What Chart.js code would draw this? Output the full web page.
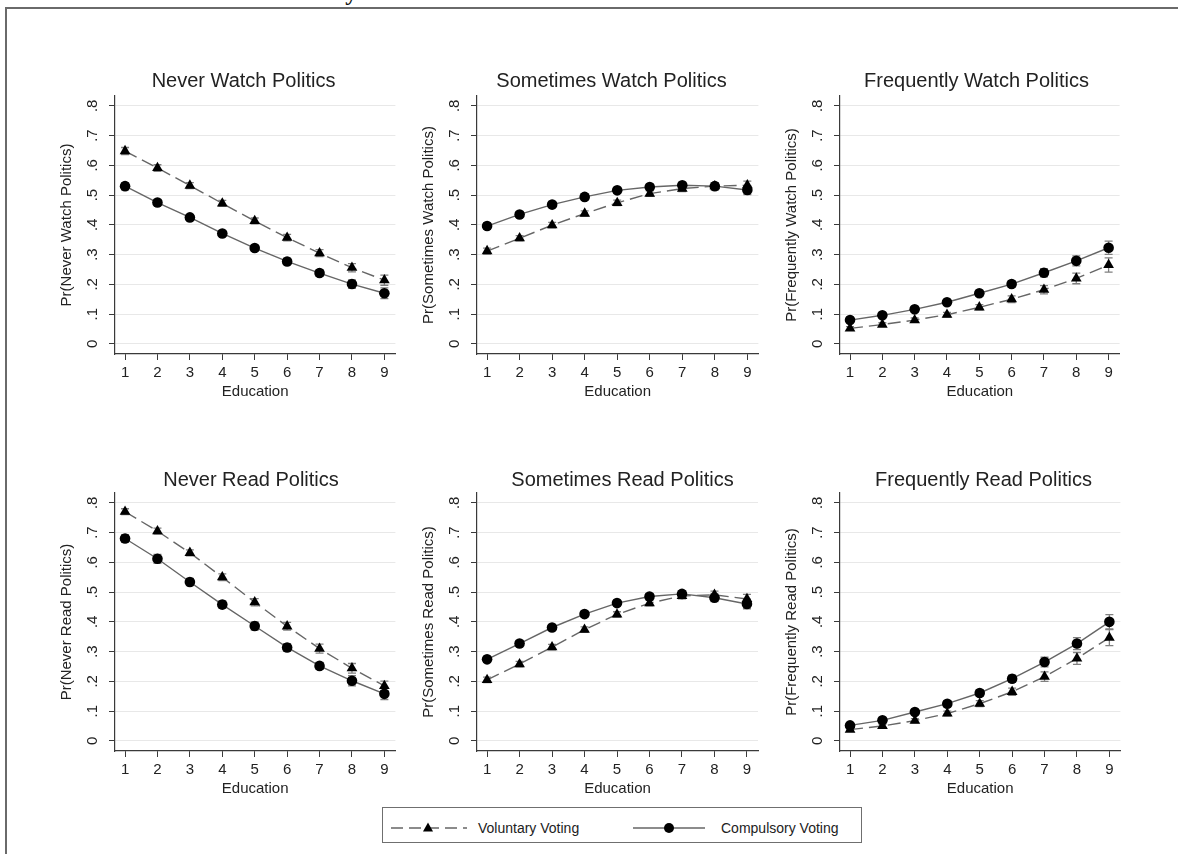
<!DOCTYPE html>
<html>
<head>
<meta charset="utf-8">
<script src="https://cdn.jsdelivr.net/npm/chart.js@4.4.1/dist/chart.umd.min.js"></script>
<style>
  html, body { margin: 0; padding: 0; background: #fff; overflow: hidden; }
  body { width: 1178px; height: 854px; position: relative; font-family: "Liberation Sans", Arial, sans-serif; }
  #frame { position: absolute; left: 5px; top: 7px; width: 1200px; height: 900px;
           border-left: 2px solid #6a6a6a; border-top: 2px solid #6a6a6a; }
  #heading { position: absolute; left: 332px; top: -20px; font: bold 24px "Liberation Serif", serif; line-height: 24px; color: #111; }
  canvas.panel { position: absolute; }
  #legend { position: absolute; left: 382px; top: 807px; width: 480px; height: 36px;
            border: 1px solid #6f6f6f; box-sizing: border-box; }
  #legend svg { position: absolute; top: 13px; }
  #legend span { position: absolute; top: 12px; font-size: 14px; line-height: 16px; color: #222; }
</style>
</head>
<body>
<div id="frame"></div>
<div id="heading">Sy</div>
<div id="legend">
  <svg style="left:7px" width="78" height="14">
    <line x1="1" y1="7" x2="77" y2="7" stroke="#666" stroke-width="1.3" stroke-dasharray="12 6"></line>
    <polygon points="38,1.5 43,10.5 33,10.5" fill="#000"></polygon>
  </svg>
  <span style="left:95px" id="legVol"></span>
  <svg style="left:249px" width="74" height="14">
    <line x1="1" y1="7" x2="73" y2="7" stroke="#666" stroke-width="1.3"></line>
    <circle cx="37" cy="7" r="5" fill="#000"></circle>
  </svg>
  <span style="left:338px" id="legComp"></span>
</div>

<script>
// ---- data ----
const education = [1, 2, 3, 4, 5, 6, 7, 8, 9];
const yTickValues = [0, 0.1, 0.2, 0.3, 0.4, 0.5, 0.6, 0.7, 0.8];
const yTickLabels = ['0', '.1', '.2', '.3', '.4', '.5', '.6', '.7', '.8'];
const seriesNames = ['Voluntary Voting', 'Compulsory Voting'];
const xAxisTitle = 'Education';

const panelTitles = [
  'Never Watch Politics', 'Sometimes Watch Politics', 'Frequently Watch Politics',
  'Never Read Politics', 'Sometimes Read Politics', 'Frequently Read Politics'
];
const yAxisTitles = [
  'Pr(Never Watch Politics)', 'Pr(Sometimes Watch Politics)', 'Pr(Frequently Watch Politics)',
  'Pr(Never Read Politics)', 'Pr(Sometimes Read Politics)', 'Pr(Frequently Read Politics)'
];

// predicted probabilities
const neverWatchVol       = [0.648, 0.591, 0.532, 0.472, 0.413, 0.357, 0.305, 0.256, 0.214];
const neverWatchComp      = [0.530, 0.475, 0.425, 0.371, 0.322, 0.277, 0.238, 0.201, 0.170];
const sometimesWatchVol   = [0.312, 0.355, 0.399, 0.438, 0.474, 0.505, 0.522, 0.530, 0.533];
const sometimesWatchComp  = [0.396, 0.435, 0.468, 0.494, 0.516, 0.527, 0.533, 0.530, 0.517];
const frequentlyWatchVol  = [0.052, 0.065, 0.080, 0.098, 0.123, 0.150, 0.182, 0.220, 0.265];
const frequentlyWatchComp = [0.080, 0.096, 0.116, 0.140, 0.170, 0.201, 0.239, 0.279, 0.323];
const neverReadVol        = [0.770, 0.705, 0.632, 0.550, 0.466, 0.385, 0.310, 0.244, 0.185];
const neverReadComp       = [0.680, 0.612, 0.534, 0.458, 0.386, 0.314, 0.252, 0.202, 0.158];
const sometimesReadVol    = [0.205, 0.258, 0.315, 0.374, 0.425, 0.463, 0.487, 0.491, 0.477];
const sometimesReadComp   = [0.274, 0.327, 0.381, 0.426, 0.463, 0.485, 0.494, 0.481, 0.460];
const frequentlyReadVol   = [0.038, 0.050, 0.068, 0.092, 0.125, 0.165, 0.216, 0.277, 0.347];
const frequentlyReadComp  = [0.052, 0.069, 0.097, 0.125, 0.161, 0.209, 0.265, 0.327, 0.400];

// half-widths of the confidence intervals
const neverWatchVolCI       = [0.012, 0.011, 0.010, 0.010, 0.010, 0.011, 0.012, 0.014, 0.017];
const neverWatchCompCI      = [0.012, 0.010, 0.009, 0.009, 0.009, 0.010, 0.011, 0.014, 0.018];
const sometimesWatchVolCI   = [0.010, 0.009, 0.009, 0.009, 0.009, 0.009, 0.010, 0.012, 0.014];
const sometimesWatchCompCI  = [0.010, 0.009, 0.009, 0.009, 0.009, 0.009, 0.010, 0.012, 0.015];
const frequentlyWatchVolCI  = [0.006, 0.006, 0.007, 0.008, 0.009, 0.011, 0.014, 0.018, 0.024];
const frequentlyWatchCompCI = [0.008, 0.008, 0.008, 0.009, 0.010, 0.011, 0.014, 0.017, 0.022];
const neverReadVolCI        = [0.010, 0.010, 0.010, 0.011, 0.012, 0.013, 0.015, 0.016, 0.016];
const neverReadCompCI       = [0.013, 0.015, 0.012, 0.012, 0.014, 0.013, 0.012, 0.017, 0.019];
const sometimesReadVolCI    = [0.009, 0.009, 0.009, 0.009, 0.009, 0.009, 0.010, 0.012, 0.015];
const sometimesReadCompCI   = [0.010, 0.010, 0.009, 0.009, 0.009, 0.009, 0.010, 0.013, 0.016];
const frequentlyReadVolCI   = [0.005, 0.006, 0.007, 0.008, 0.010, 0.012, 0.016, 0.020, 0.027];
const frequentlyReadCompCI  = [0.006, 0.007, 0.008, 0.010, 0.011, 0.012, 0.016, 0.020, 0.024];

const panelSeries = [
  [neverWatchVol, neverWatchVolCI, neverWatchComp, neverWatchCompCI],
  [sometimesWatchVol, sometimesWatchVolCI, sometimesWatchComp, sometimesWatchCompCI],
  [frequentlyWatchVol, frequentlyWatchVolCI, frequentlyWatchComp, frequentlyWatchCompCI],
  [neverReadVol, neverReadVolCI, neverReadComp, neverReadCompCI],
  [sometimesReadVol, sometimesReadVolCI, sometimesReadComp, sometimesReadCompCI],
  [frequentlyReadVol, frequentlyReadVolCI, frequentlyReadComp, frequentlyReadCompCI]
];

// ---- layout ----
const Y_AXIS_W = 62, TITLE_BLOCK = 46, PLOT_H = 258, X_AXIS_H = 50;
const TITLE_SIZE = 20, LABEL_SIZE = 15;
const panelBoxes = [
  { plotLeft: 115, plotTop: 96,    plotW: 280, titleCx: 243.3, titleCy: 81.7 },
  { plotLeft: 477, plotTop: 96,    plotW: 281, titleCx: 611.3, titleCy: 81.7 },
  { plotLeft: 840, plotTop: 96,    plotW: 280, titleCx: 976.7, titleCy: 81.7 },
  { plotLeft: 115, plotTop: 492.5, plotW: 280, titleCx: 250.8, titleCy: 480 },
  { plotLeft: 477, plotTop: 492.5, plotW: 281, titleCx: 622.5, titleCy: 480 },
  { plotLeft: 840, plotTop: 492.5, plotW: 280, titleCx: 983.3, titleCy: 480 }
];

const INK = '#222222';
const AXIS = '#3a3a3a';
const LINE = '#666666';

document.getElementById('legVol').textContent = seriesNames[0];
document.getElementById('legComp').textContent = seriesNames[1];

// vertical confidence-interval whiskers with caps, drawn under the markers
const errorBars = {
  id: 'errorBars',
  beforeDatasetsDraw(chart) {
    const { ctx } = chart;
    const xs = chart.scales.x, ys = chart.scales.y;
    chart.data.datasets.forEach(ds => {
      if (!ds.ci) return;
      ctx.save();
      ctx.strokeStyle = '#808080';
      ctx.lineWidth = 1.3;
      ds.data.forEach((p, i) => {
        const e = ds.ci[i];
        const px = xs.getPixelForValue(p.x);
        const top = ys.getPixelForValue(p.y + e);
        const bot = ys.getPixelForValue(p.y - e);
        ctx.beginPath();
        ctx.moveTo(px, top); ctx.lineTo(px, bot);
        ctx.moveTo(px - 4, top); ctx.lineTo(px + 4, top);
        ctx.moveTo(px - 4, bot); ctx.lineTo(px + 4, bot);
        ctx.stroke();
      });
      ctx.restore();
    });
  }
};

Chart.defaults.font.family = '"Liberation Sans", Arial, sans-serif';
Chart.defaults.color = INK;

panelBoxes.forEach((box, k) => {
  const [vol, volCI, comp, compCI] = panelSeries[k];
  const canvasLeft = box.plotLeft - Y_AXIS_W;
  const canvasTop = box.plotTop - TITLE_BLOCK;
  const rightW = 2 * (box.titleCx - canvasLeft) - Y_AXIS_W - box.plotW;
  const W = Math.round(Y_AXIS_W + box.plotW + rightW);
  const H = TITLE_BLOCK + PLOT_H + X_AXIS_H;
  const titleLH = TITLE_SIZE * 1.2;
  const titlePadTop = box.titleCy - canvasTop - titleLH / 2;
  const titlePadBottom = TITLE_BLOCK - titlePadTop - titleLH;

  const cv = document.createElement('canvas');
  cv.className = 'panel';
  cv.width = W; cv.height = H;
  cv.style.left = canvasLeft + 'px';
  cv.style.top = canvasTop + 'px';
  cv.style.width = W + 'px';
  cv.style.height = H + 'px';
  document.body.appendChild(cv);

  const toPoints = arr => education.map((x, i) => ({ x, y: arr[i] }));

  new Chart(cv, {
    type: 'line',
    data: {
      datasets: [
        {
          label: seriesNames[1], data: toPoints(comp), ci: compCI,
          borderColor: LINE, borderWidth: 1.4, tension: 0,
          pointStyle: 'circle', pointRadius: 5.3, pointBackgroundColor: '#000',
          pointBorderColor: '#000', pointBorderWidth: 0,
          xAxisID: 'x', yAxisID: 'y'
        },
        {
          label: seriesNames[0], data: toPoints(vol), ci: volCI,
          borderColor: LINE, borderWidth: 1.4, borderDash: [13, 6], tension: 0,
          pointStyle: 'triangle', pointRadius: 6.2, pointBackgroundColor: '#000',
          pointBorderColor: '#000', pointBorderWidth: 0,
          xAxisID: 'x', yAxisID: 'y'
        }
      ]
    },
    options: {
      responsive: false,
      animation: false,
      events: [],
      layout: { padding: 0 },
      plugins: {
        legend: { display: false },
        tooltip: { enabled: false },
        title: {
          display: true, text: panelTitles[k], color: INK,
          font: { size: TITLE_SIZE, weight: 'normal', lineHeight: 1.2 },
          padding: { top: titlePadTop, bottom: titlePadBottom }
        }
      },
      scales: {
        x: {
          type: 'linear', position: 'bottom', min: 0.69, max: 9.34,
          afterBuildTicks: s => { s.ticks = education.map(v => ({ value: v })); },
          afterFit: s => { s.height = X_AXIS_H; },
          grid: { drawOnChartArea: false, drawTicks: true, tickLength: 6, tickColor: AXIS, tickWidth: 1 },
          border: { color: AXIS, width: 1.2 },
          ticks: {
            autoSkip: false, minRotation: 0, maxRotation: 0, padding: 3.7,
            callback: (v, i) => String(education[i]),
            font: { size: LABEL_SIZE }, color: INK
          },
          title: {
            display: true, text: xAxisTitle, color: INK,
            font: { size: LABEL_SIZE }, padding: { top: 0, bottom: 3.3 }
          }
        },
        y: {
          type: 'linear', position: 'left', min: -0.034, max: 0.833,
          afterBuildTicks: s => { s.ticks = yTickValues.map(v => ({ value: v })); },
          afterFit: s => { s.width = Y_AXIS_W; },
          grid: { color: '#e8e8e8', lineWidth: 1, drawTicks: true, tickLength: 6, tickColor: AXIS, tickWidth: 1 },
          border: { color: AXIS, width: 1.2 },
          ticks: {
            minRotation: 90, maxRotation: 90, crossAlign: 'center', padding: 10,
            callback: (v, i) => yTickLabels[i],
            font: { size: LABEL_SIZE }, color: INK
          },
          title: {
            display: true, text: yAxisTitles[k], color: INK,
            font: { size: LABEL_SIZE }, padding: { top: 4.7, bottom: 0 }
          }
        },
        spacer: {
          type: 'linear', position: 'right', display: true,
          grid: { display: false, drawTicks: false },
          border: { display: false },
          ticks: { display: false },
          afterFit: s => { s.width = rightW; }
        }
      }
    },
    plugins: [errorBars]
  });
});
</script>
</body>
</html>
